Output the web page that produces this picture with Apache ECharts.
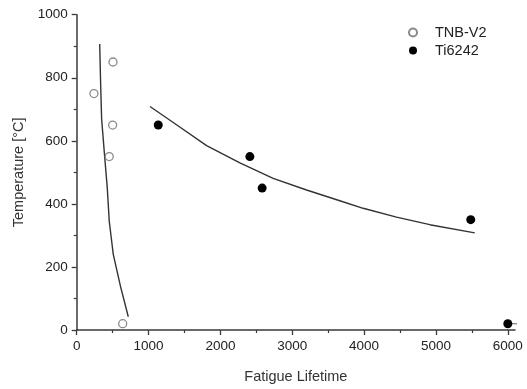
<!DOCTYPE html>
<html><head><meta charset="utf-8">
<script src="https://cdn.jsdelivr.net/npm/echarts@6/dist/echarts.min.js"></script>
<style>html,body{margin:0;padding:0;background:#fff}#c{width:527px;height:389px}</style>
</head><body><div id="c"></div>
<script>
// Data
const tnbX = [240, 505, 500, 453, 640];
const tnbY = [750, 850, 650, 550, 20];
const tiX = [1135, 2410, 2581, 5484, 6000];
const tiY = [650, 550, 450, 350, 20];
const tnbFitX = [320, 334, 347, 384, 426, 453, 509, 612, 718];
const tnbFitY = [907, 773, 669, 564, 449, 345, 240, 136, 42];
const tiFitX = [1020, 1344, 1808, 2271, 2734, 3199, 3662, 3987, 4451, 4914, 5540];
const tiFitY = [709, 658, 585, 530, 481, 444, 410, 386, 358, 334, 308];
const tailX = [6000, 6400];
const tailY = [20, 20];
const xMajor = [0, 1000, 2000, 3000, 4000, 5000, 6000];
const xMinor = [500, 1500, 2500, 3500, 4500, 5500];

const zip = (a, b) => a.map((v, i) => [v, b[i]]);
const font = 'Liberation Sans, Arial, sans-serif';
const axisColor = '#3a3a3a';

const chart = echarts.init(document.getElementById('c'), null, {renderer: 'canvas'});
chart.setOption({
  animation: false,
  backgroundColor: '#fff',
  grid: {left: 76.7, right: 12, top: 14.7, bottom: 55.7},
  legend: {
    orient: 'vertical', left: 403, top: 20, itemWidth: 30, itemHeight: 8, itemGap: 3,
    data: ['TNB-V2', 'Ti6242'],
    textStyle: {fontFamily: font, fontSize: 14.5, color: '#222', padding: [0, 0, 0, 2]}
  },
  xAxis: [{
    type: 'value', min: 0, max: 6100,
    name: 'Fatigue Lifetime', nameLocation: 'middle', nameGap: 39,
    nameTextStyle: {fontFamily: font, fontSize: 14.5, color: '#333'},
    axisLine: {show: true, lineStyle: {color: axisColor, width: 1.5}},
    axisTick: {show: true, length: 5, customValues: xMajor, lineStyle: {color: axisColor, width: 1.3}},
    axisLabel: {customValues: xMajor, formatter: v => String(v), fontFamily: font, fontSize: 13.5, color: '#222', margin: 9},
    splitLine: {show: false}
  }, {
    type: 'value', min: 0, max: 6100, position: 'bottom',
    axisLine: {show: false},
    axisTick: {show: true, length: 3, customValues: xMinor, lineStyle: {color: axisColor, width: 1.2}},
    axisLabel: {show: false},
    splitLine: {show: false}
  }],
  yAxis: {
    type: 'value', min: 0, max: 1000, interval: 200,
    name: 'Temperature [°C]', nameLocation: 'middle', nameGap: 48,
    nameTextStyle: {fontFamily: font, fontSize: 14.5, color: '#333'},
    axisLine: {show: true, lineStyle: {color: axisColor, width: 1.5}},
    axisTick: {show: true, length: 5, lineStyle: {color: axisColor, width: 1.3}},
    minorTick: {show: true, splitNumber: 2, length: 3, lineStyle: {color: axisColor, width: 1.2}},
    axisLabel: {formatter: v => String(v), fontFamily: font, fontSize: 13.5, color: '#222', margin: 9},
    splitLine: {show: false}
  },
  series: [
    {name: 'TNB-V2', type: 'scatter', data: zip(tnbX, tnbY), symbol: 'circle', symbolSize: 8,
     itemStyle: {color: '#fff', borderColor: '#8a8a8a', borderWidth: 1.3, opacity: 1}, z: 5},
    {name: 'Ti6242', type: 'scatter', data: zip(tiX, tiY), symbol: 'circle', symbolSize: 9,
     itemStyle: {color: '#000', opacity: 1}, z: 5},
    {name: 'fitTNB', type: 'line', data: zip(tnbFitX, tnbFitY), smooth: false, symbol: 'none',
     lineStyle: {color: '#333', width: 1.4}},
    {name: 'fitTi', type: 'line', data: zip(tiFitX, tiFitY), smooth: false, symbol: 'none',
     lineStyle: {color: '#333', width: 1.4}},
    {name: 'tail', type: 'line', data: zip(tailX, tailY), symbol: 'none', clip: false,
     lineStyle: {color: '#888', width: 1.3}, z: 3}
  ]
});
</script></body></html>
